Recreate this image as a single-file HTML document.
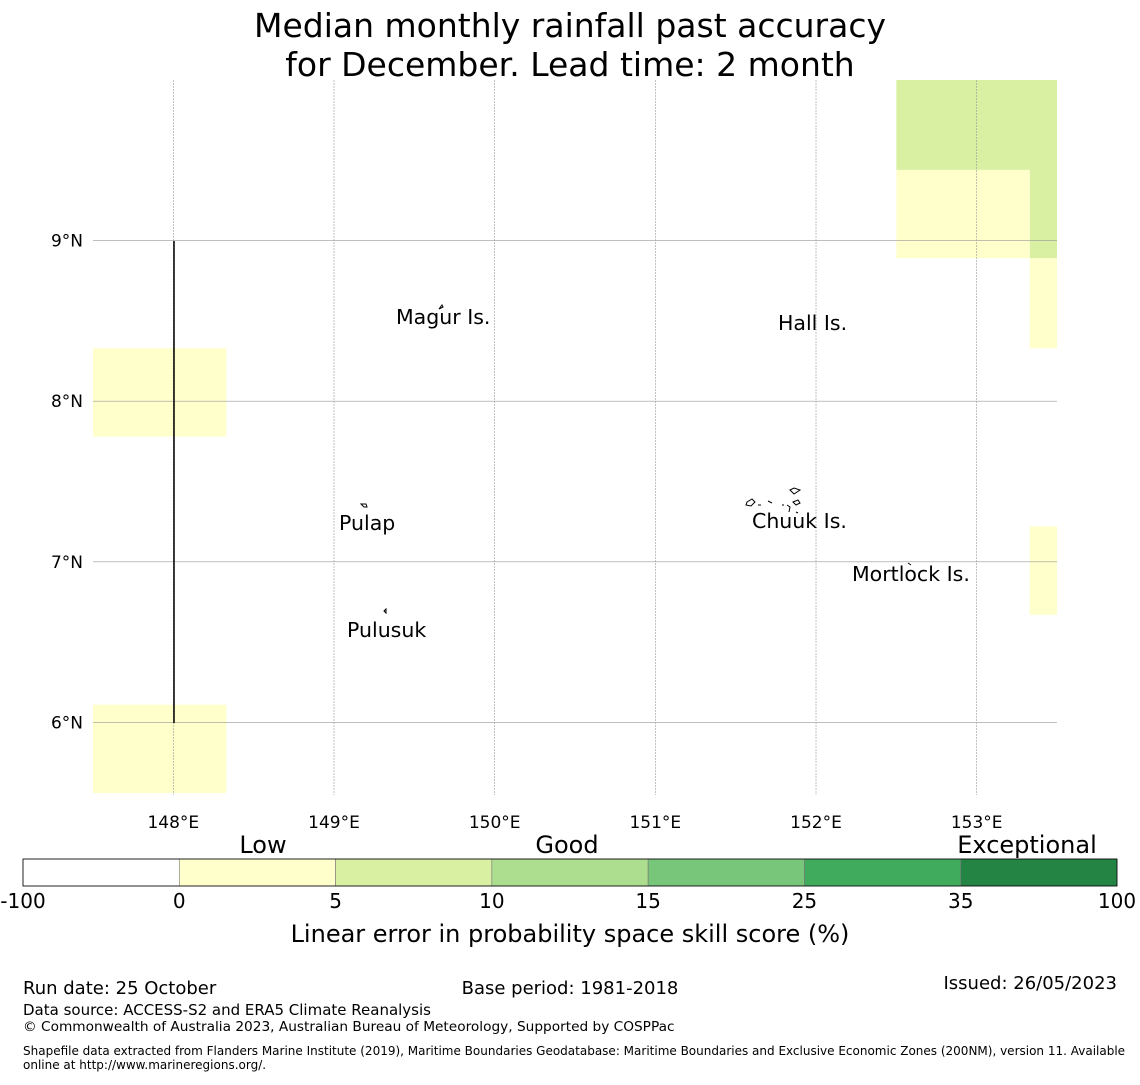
<!DOCTYPE html>
<html><head><meta charset="utf-8"><style>
body{margin:0;background:#fff;font-family:"Liberation Sans","DejaVu Sans",sans-serif;}
svg text{font-family:"DejaVu Sans","Liberation Sans",sans-serif;}
</style></head><body>
<svg id="chart" width="1140" height="1080" xmlns="http://www.w3.org/2000/svg">
<text x="570" y="37" font-size="33" text-anchor="middle">Median monthly rainfall past accuracy</text>
<text x="570" y="76" font-size="33" text-anchor="middle">for December. Lead time: 2 month</text>
<g id="cells"></g>
<g id="grid"></g>
<line x1="174" y1="241" x2="174" y2="723" stroke="#000" stroke-width="1.5"/>
<g fill="none" stroke="#000" stroke-width="1">
<path d="M439 309 l3 -4 l1 2 z"/>
<path d="M361 504 l5 0 l1 3 l-3 0 z"/>
<path d="M384 611 l2 -2 l0 4 z"/>
<path d="M747 502 l5 -3 l3 3 l-4 4 l-5 -1 z M758 505 l3 0 M768 501 l4 2 M782 505 l2 0 M787 505 l3 2 l-1 5 M790 490 l4 -2 l6 2 l-6 4 z M793 502 l5 -2 l2 3 l-4 2 z M796 512 l2 1"/>
<path d="M908 563 l3 2"/>
</g>
<g font-size="20.5">
<text x="396" y="324">Magur Is.</text>
<text x="778" y="330">Hall Is.</text>
<text x="339" y="530">Pulap</text>
<text x="752" y="528">Chuuk Is.</text>
<text x="852" y="581">Mortlock Is.</text>
<text x="347" y="637">Pulusuk</text>
</g>
<g id="ticks" font-size="17"></g>
<g font-size="24">
<text x="263" y="853" text-anchor="middle">Low</text>
<text x="567" y="853" text-anchor="middle">Good</text>
<text x="1027" y="853" text-anchor="middle">Exceptional</text>
</g>
<g id="cbar"></g>
<text x="570" y="942" font-size="24" text-anchor="middle">Linear error in probability space skill score (%)</text>
<g>
<text x="23" y="994" font-size="18">Run date: 25 October</text>
<text x="570" y="994" font-size="18" text-anchor="middle">Base period: 1981-2018</text>
<text x="1117" y="989" font-size="18" text-anchor="end">Issued: 26/05/2023</text>
<text x="23" y="1015" font-size="15">Data source: ACCESS-S2 and ERA5 Climate Reanalysis</text>
<text x="23" y="1031" font-size="13.7">© Commonwealth of Australia 2023, Australian Bureau of Meteorology, Supported by COSPPac</text>
<text x="23" y="1055" font-size="12">Shapefile data extracted from Flanders Marine Institute (2019), Maritime Boundaries Geodatabase: Maritime Boundaries and Exclusive Economic Zones (200NM), version 11. Available</text>
<text x="23" y="1069" font-size="12">online at http://www.marineregions.org/.</text>
</g>
</svg>
<script>
const cellLon0=[152.5,153.33,152.5,153.33,153.33,147.5,147.5];
const cellLon1=[153.5,153.5,153.33,153.5,153.5,148.33,148.33];
const cellLat0=[9.44,8.89,8.89,8.33,6.67,7.78,5.56];
const cellLat1=[10.0,9.44,9.44,8.89,7.22,8.33,6.11];
const cellVal=[7,7,2,2,2,2,2];
const cbBounds=[-100,0,5,10,15,25,35,100];
const cbColors=['#ffffff','#ffffcc','#d9f0a3','#addd8e','#78c679','#41ab5d','#238443'];
const lonTicks=[148,149,150,151,152,153];
const latTicks=[6,7,8,9];
const NS='http://www.w3.org/2000/svg';
const xs=lon=>93+(lon-147.5)*160.67;
const ys=lat=>80+(10-lat)*160.6;
function colorFor(v){for(let i=0;i<cbBounds.length-1;i++){if(v<cbBounds[i+1])return cbColors[i];}return cbColors[cbColors.length-1];}
function mk(t,a,p){const e=document.createElementNS(NS,t);for(const k in a)e.setAttribute(k,a[k]);p.appendChild(e);return e;}
const cells=document.getElementById('cells');
for(let i=0;i<cellVal.length;i++){
 const r=mk('rect',{x:xs(cellLon0[i]),y:ys(cellLat1[i]),width:xs(cellLon1[i])-xs(cellLon0[i]),height:ys(cellLat0[i])-ys(cellLat1[i]),fill:colorFor(cellVal[i])},cells);
 
 
}
const grid=document.getElementById('grid'),ticks=document.getElementById('ticks');
lonTicks.forEach(l=>{
 const ln=mk('line',{x1:xs(l),x2:xs(l),y1:80,y2:795,stroke:'#999','stroke-width':0.6,'stroke-dasharray':'2,1'},grid);
 
 
 const t=mk('text',{x:xs(l),y:828,'text-anchor':'middle'},ticks);t.textContent=l+'°E';
 
 
});
latTicks.forEach(l=>{
 const ln=mk('line',{x1:93,x2:1057,y1:ys(l),y2:ys(l),stroke:'#999','stroke-width':0.6},grid);
 
 
 const t=mk('text',{x:83,y:ys(l)+6,'text-anchor':'end'},ticks);t.textContent=l+'°N';
 
 
});
const cb=document.getElementById('cbar');const w=(1117-23)/cbColors.length;
cbColors.forEach((c,i)=>{
 const r=mk('rect',{x:23+i*w,y:859,width:w,height:27,fill:c,stroke:'#777','stroke-width':0.6},cb);
 
 
});
mk('rect',{x:23,y:859,width:1094,height:27,fill:'none',stroke:'#000','stroke-width':0.8},cb);
cbBounds.forEach((b,i)=>{
 const t=mk('text',{x:23+i*w,y:908,'text-anchor':'middle','font-size':20},cb);t.textContent=b;
 
 
});
</script>
</body></html>
